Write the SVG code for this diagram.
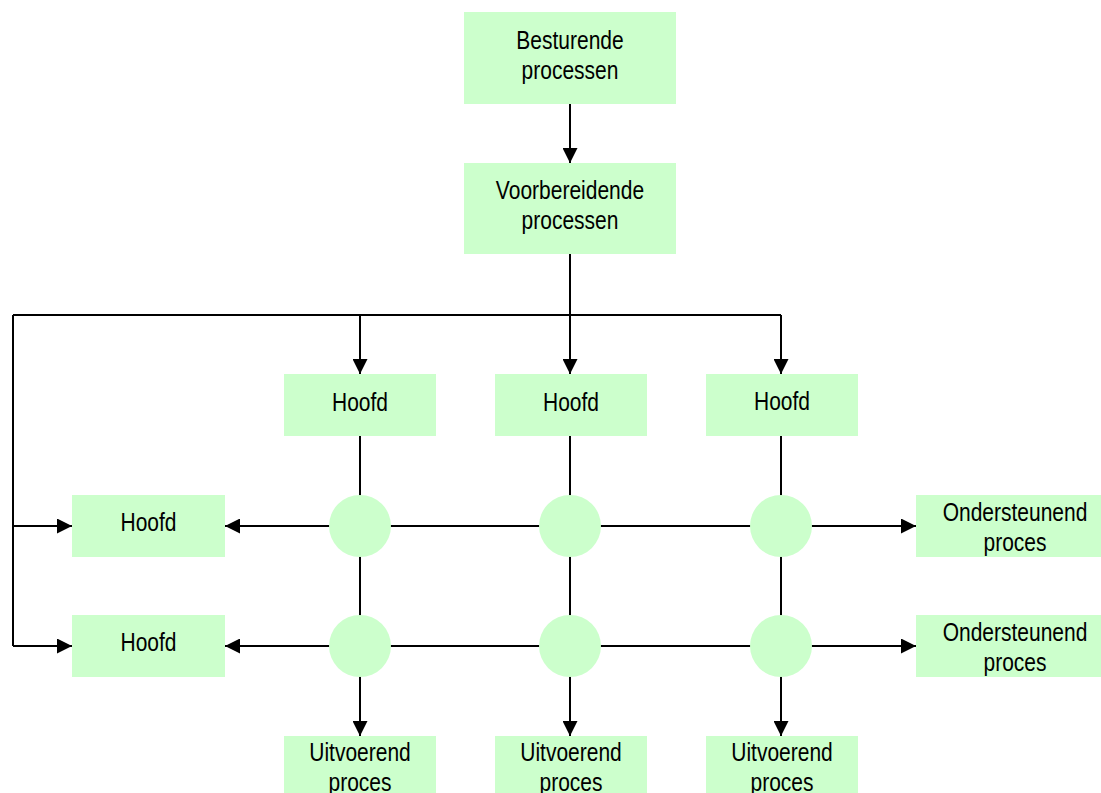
<svg xmlns="http://www.w3.org/2000/svg" width="1101" height="793" viewBox="0 0 1101 793">
<style>
.box{fill:#CCFFCC;stroke:none}
.dot{fill:#CCFFCC;stroke:none}
.ln{stroke:#000;stroke-width:2;fill:none}
.arr{marker-end:url(#ah)}
text{font-family:"Liberation Sans",Arial,sans-serif;font-size:21px;fill:#000;text-anchor:middle}
</style>
<defs>
<marker id="ah" markerUnits="userSpaceOnUse" markerWidth="15" markerHeight="15" refX="15" refY="7.5" orient="auto" viewBox="0 0 15 15">
<path d="M0,0 L15,7.5 L0,15 z" fill="#000"/>
</marker>
</defs>
<rect width="1101" height="793" fill="#fff"/>
<g id="connectors">
<line class="ln arr" x1="570" y1="104" x2="570" y2="163"/>
<line class="ln" x1="570" y1="254" x2="570" y2="315"/>
<line class="ln" x1="13" y1="315" x2="781" y2="315"/>
<line class="ln arr" x1="360" y1="315" x2="360" y2="374"/>
<line class="ln arr" x1="570" y1="315" x2="570" y2="374"/>
<line class="ln arr" x1="781" y1="315" x2="781" y2="374"/>
<line class="ln" x1="13" y1="315" x2="13" y2="646"/>
<line class="ln arr" x1="13" y1="526" x2="72" y2="526"/>
<line class="ln arr" x1="13" y1="646" x2="72" y2="646"/>
<line class="ln" x1="360" y1="436" x2="360" y2="677"/>
<line class="ln" x1="570" y1="436" x2="570" y2="677"/>
<line class="ln" x1="781" y1="436" x2="781" y2="677"/>
<line class="ln arr" x1="360" y1="677" x2="360" y2="736"/>
<line class="ln arr" x1="570" y1="677" x2="570" y2="736"/>
<line class="ln arr" x1="781" y1="677" x2="781" y2="736"/>
<line class="ln arr" x1="360" y1="526" x2="225" y2="526"/>
<line class="ln" x1="360" y1="526" x2="781" y2="526"/>
<line class="ln arr" x1="781" y1="526" x2="916" y2="526"/>
<line class="ln arr" x1="360" y1="646" x2="225" y2="646"/>
<line class="ln" x1="360" y1="646" x2="781" y2="646"/>
<line class="ln arr" x1="781" y1="646" x2="916" y2="646"/>
</g>
<g id="besturende">
<rect class="box" x="464" y="12" width="212" height="92"/>
<text transform="translate(570,49) scale(1,1.2)"><tspan x="0" dy="0">Besturende</tspan><tspan x="0" dy="25">processen</tspan></text>
</g>
<g id="voorbereidende">
<rect class="box" x="464" y="163" width="212" height="91"/>
<text transform="translate(570,199) scale(1,1.2)"><tspan x="0" dy="0">Voorbereidende</tspan><tspan x="0" dy="25">processen</tspan></text>
</g>
<g id="hoofd-top-1">
<rect class="box" x="284" y="374" width="152" height="62"/>
<text transform="translate(360,411) scale(1,1.2)">Hoofd</text>
</g>
<g id="hoofd-top-2">
<rect class="box" x="495" y="374" width="152" height="62"/>
<text transform="translate(571,411) scale(1,1.2)">Hoofd</text>
</g>
<g id="hoofd-top-3">
<rect class="box" x="706" y="374" width="152" height="62"/>
<text transform="translate(782,410) scale(1,1.2)">Hoofd</text>
</g>
<g id="hoofd-left-1">
<rect class="box" x="72" y="495" width="153" height="62"/>
<text transform="translate(148.5,531) scale(1,1.2)">Hoofd</text>
</g>
<g id="hoofd-left-2">
<rect class="box" x="72" y="615" width="153" height="62"/>
<text transform="translate(148.5,651) scale(1,1.2)">Hoofd</text>
</g>
<g id="circle-1-1"><circle class="dot" cx="360" cy="526" r="31"/></g>
<g id="circle-1-2"><circle class="dot" cx="570" cy="526" r="31"/></g>
<g id="circle-1-3"><circle class="dot" cx="781" cy="526" r="31"/></g>
<g id="circle-2-1"><circle class="dot" cx="360" cy="646" r="31"/></g>
<g id="circle-2-2"><circle class="dot" cx="570" cy="646" r="31"/></g>
<g id="circle-2-3"><circle class="dot" cx="781" cy="646" r="31"/></g>
<g id="ondersteunend-1">
<rect class="box" x="916" y="495" width="198" height="62"/>
<text transform="translate(1015,521) scale(1,1.2)"><tspan x="0" dy="0">Ondersteunend</tspan><tspan x="0" dy="25">proces</tspan></text>
</g>
<g id="ondersteunend-2">
<rect class="box" x="916" y="615" width="198" height="62"/>
<text transform="translate(1015,641) scale(1,1.2)"><tspan x="0" dy="0">Ondersteunend</tspan><tspan x="0" dy="25">proces</tspan></text>
</g>
<g id="uitvoerend-1">
<rect class="box" x="284" y="736" width="152" height="62"/>
<text transform="translate(360,761) scale(1,1.2)"><tspan x="0" dy="0">Uitvoerend</tspan><tspan x="0" dy="25">proces</tspan></text>
</g>
<g id="uitvoerend-2">
<rect class="box" x="495" y="736" width="152" height="62"/>
<text transform="translate(571,761) scale(1,1.2)"><tspan x="0" dy="0">Uitvoerend</tspan><tspan x="0" dy="25">proces</tspan></text>
</g>
<g id="uitvoerend-3">
<rect class="box" x="706" y="736" width="152" height="62"/>
<text transform="translate(782,761) scale(1,1.2)"><tspan x="0" dy="0">Uitvoerend</tspan><tspan x="0" dy="25">proces</tspan></text>
</g>
</svg>
